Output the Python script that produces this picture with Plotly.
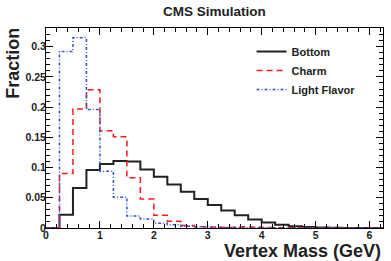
import plotly.graph_objects as go

bin_width = 0.25
bottom = [0, 0.022, 0.066, 0.096, 0.106, 0.111, 0.110, 0.097, 0.085, 0.072,
          0.060, 0.048, 0.038, 0.029, 0.021, 0.014, 0.009, 0.0055, 0.003, 0.0015,
          0.0008, 0.0004, 0.0002, 0.0001, 0.0001]
charm = [0, 0.090, 0.197, 0.229, 0.161, 0.151, 0.083, 0.048, 0.021, 0.011,
         0.004, 0.002, 0.0015, 0.001, 0.002, 0.0015, 0.0008, 0.0005, 0.0003, 0.0002,
         0.0001, 0.0001, 0, 0, 0]
light = [0, 0.292, 0.315, 0.196, 0.094, 0.051, 0.020, 0.015, 0.008, 0.0055,
         0.003, 0.002, 0.001, 0.0008, 0.0005, 0.0003, 0.0002, 0.0001, 0.0001, 0,
         0, 0, 0, 0, 0]
series = [("Bottom", bottom, "#222222", "solid", 2),
          ("Charm", charm, "#ff1a1a", "6px,4px", 1.5),
          ("Light Flavor", light, "#3355cc", "3px,2px,1px,2px", 1.5)]
x_ticks = [0, 1, 2, 3, 4, 5, 6]
y_ticks = [0, 0.05, 0.1, 0.15, 0.2, 0.25, 0.3]
y_tick_labels = ["0", "0.05", "0.1", "0.15", "0.2", "0.25", "0.3"]

FONT = "Liberation Sans, Arial, sans-serif"

fig = go.Figure()
for name, vals, color, dash, w in series:
    xs = [i * bin_width for i in range(len(vals) + 1)]
    ys = list(vals) + [vals[-1]]
    fig.add_trace(go.Scatter(x=xs, y=ys, mode="lines", name="<b>%s</b>" % name,
                             line=dict(shape="hv", color=color, dash=dash, width=w)))

axis_common = dict(showline=True, linecolor="black", linewidth=1, mirror="allticks",
                   ticks="inside", ticklen=7, tickcolor="black", showgrid=False,
                   zeroline=False,
                   tickfont=dict(family=FONT, size=10.5, color="#222"))
fig.update_xaxes(range=[0, 6.25], tickvals=x_ticks,
                 ticktext=["<b>%d</b>" % v for v in x_ticks],
                 ticklabelstandoff=-3,
                 minor=dict(dtick=0.2, ticks="inside", ticklen=4, tickcolor="black"),
                 **axis_common)
fig.update_yaxes(range=[0, 0.331], tickvals=y_ticks,
                 ticktext=["<b>%s</b>" % t for t in y_tick_labels],
                 ticklabelstandoff=-3,
                 minor=dict(dtick=0.01, ticks="inside", ticklen=4, tickcolor="black"),
                 **axis_common)

fig.update_layout(
    width=391, height=261,
    margin=dict(l=46, r=8, t=28, b=33),
    paper_bgcolor="white", plot_bgcolor="white",
    title=dict(text="<b>CMS Simulation</b>", x=0.5, xref="paper", y=1 - 11 / 261,
               yanchor="middle", xanchor="center",
               font=dict(family=FONT, size=13.5, color="#222")),
    legend=dict(x=0.61, y=0.955, xanchor="left", yanchor="top",
                bgcolor="rgba(0,0,0,0)",
                font=dict(family=FONT, size=11, color="#222"),
                itemwidth=30, tracegroupgap=0),
    showlegend=True,
    annotations=[
        dict(text="<b>Fraction</b>", xref="paper", yref="paper", x=-0.1, y=1.01,
             xanchor="center", yanchor="top", textangle=-90, showarrow=False,
             font=dict(family=FONT, size=18, color="#222")),
        dict(text="<b>Vertex Mass (GeV)</b>", xref="paper", yref="paper", x=1.0, y=-0.055,
             xanchor="right", yanchor="top", showarrow=False,
             font=dict(family=FONT, size=18, color="#222")),
    ],
)

fig.write_html("out.html", config={"displayModeBar": False},
               post_script="document.body.style.margin='0';document.body.style.padding='0';")
